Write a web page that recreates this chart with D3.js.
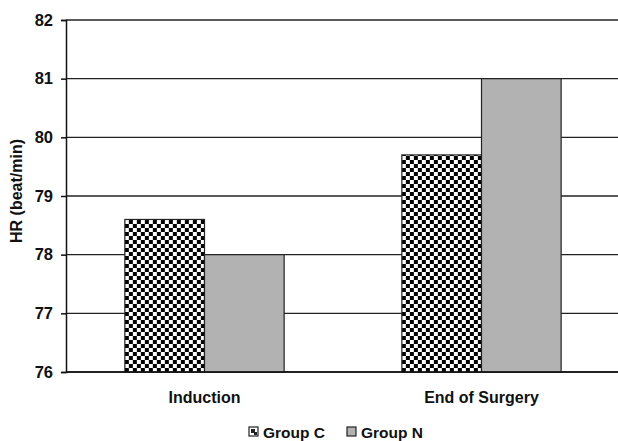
<!DOCTYPE html>
<html>
<head>
<meta charset="utf-8">
<script src="https://cdn.jsdelivr.net/npm/d3@7"></script>
<style>
  html, body { margin: 0; padding: 0; background: #fff; }
  text { font-family: "Liberation Sans", Arial, sans-serif; font-weight: bold; fill: #111; }
</style>
</head>
<body>
<svg id="chart" width="618" height="441"></svg>
<script>
// Heart rate by time point for the two groups
const categories = ["Induction", "End of Surgery"];
const seriesNames = ["Group C", "Group N"];
const groupC = [78.6, 79.7];
const groupN = [78.0, 81.0];
const yTicks = [76, 77, 78, 79, 80, 81, 82];

const svg = d3.select("#chart");
const margin = { left: 66, top: 20, bottom: 372, right: 620 };

const x0 = d3.scaleBand()
  .domain(categories)
  .range([margin.left, margin.right])
  .paddingInner(0.425)
  .paddingOuter(0.2125);

const x1 = d3.scaleBand()
  .domain(seriesNames)
  .range([0, x0.bandwidth()]);

const y = d3.scaleLinear()
  .domain([76, 82])
  .range([margin.bottom, margin.top]);

// Checkerboard fill for Group C
const defs = svg.append("defs");
const pat = defs.append("pattern")
  .attr("id", "checker")
  .attr("patternUnits", "userSpaceOnUse")
  .attr("width", 8).attr("height", 8);
pat.append("rect").attr("width", 8).attr("height", 8).attr("fill", "#fff");
pat.append("rect").attr("x", 0).attr("y", 0).attr("width", 4).attr("height", 4).attr("fill", "#000");
pat.append("rect").attr("x", 4).attr("y", 4).attr("width", 4).attr("height", 4).attr("fill", "#000");

const fills = { "Group C": "url(#checker)", "Group N": "#b2b2b2" };

// Horizontal gridlines
svg.append("g")
  .selectAll("line")
  .data(yTicks)
  .join("line")
  .attr("x1", margin.left).attr("x2", 618)
  .attr("y1", d => y(d)).attr("y2", d => y(d))
  .attr("stroke", "#222").attr("stroke-width", 1.3);

// Bars
const rows = categories.map((c, i) => ({ cat: c, vals: [
  { s: "Group C", v: groupC[i] },
  { s: "Group N", v: groupN[i] }
]}));

svg.append("g")
  .selectAll("g")
  .data(rows)
  .join("g")
  .attr("transform", d => `translate(${x0(d.cat)},0)`)
  .selectAll("rect")
  .data(d => d.vals)
  .join("rect")
  .attr("x", d => x1(d.s))
  .attr("width", x1.bandwidth())
  .attr("y", d => y(d.v))
  .attr("height", d => y(76) - y(d.v))
  .attr("fill", d => fills[d.s])
  .attr("stroke", "#222")
  .attr("stroke-width", 1.2);

// Y axis
const yAxis = svg.append("g")
  .attr("transform", `translate(${margin.left},0)`)
  .call(d3.axisLeft(y).tickValues(yTicks).tickSize(5).tickPadding(8).tickFormat(d3.format("d")));
yAxis.select(".domain").attr("stroke", "#111").attr("stroke-width", 1.5);
yAxis.selectAll(".tick line").attr("stroke", "#111").attr("stroke-width", 1.5);
yAxis.selectAll(".tick text").style("font-size", "16.5px").style("font-family", "'Liberation Sans', Arial, sans-serif").style("font-weight", "bold").attr("fill", "#111");

// Baseline
svg.append("line")
  .attr("x1", margin.left).attr("x2", 618)
  .attr("y1", y(76)).attr("y2", y(76))
  .attr("stroke", "#111").attr("stroke-width", 1.5);

// Category labels
svg.append("g")
  .selectAll("text")
  .data(categories)
  .join("text")
  .attr("x", d => x0(d) + x0.bandwidth() / 2)
  .attr("y", 403)
  .attr("text-anchor", "middle")
  .style("font-size", "16px")
  .text(d => d);

// Y axis title
svg.append("text")
  .attr("transform", `translate(22,191) rotate(-90)`)
  .attr("text-anchor", "middle")
  .style("font-size", "16px")
  .text("HR (beat/min)");

// Legend
const legend = svg.append("g");
const legendX = [249, 347];
seriesNames.forEach((s, i) => {
  legend.append("rect")
    .attr("x", legendX[i]).attr("y", 427)
    .attr("width", 9).attr("height", 9)
    .attr("fill", i === 0 ? "#fff" : fills[s])
    .attr("stroke", "#222").attr("stroke-width", 1.2);
  if (i === 0) {
    legend.append("rect")
      .attr("x", legendX[i] + 2).attr("y", 429)
      .attr("width", 4).attr("height", 4).attr("fill", "#222");
    legend.append("rect")
      .attr("x", legendX[i] + 5).attr("y", 432)
      .attr("width", 3).attr("height", 3).attr("fill", "#222");
  }
  legend.append("text")
    .attr("x", legendX[i] + 14).attr("y", 438)
    .style("font-size", "15.5px")
    .text(s);
});
</script>
</body>
</html>
